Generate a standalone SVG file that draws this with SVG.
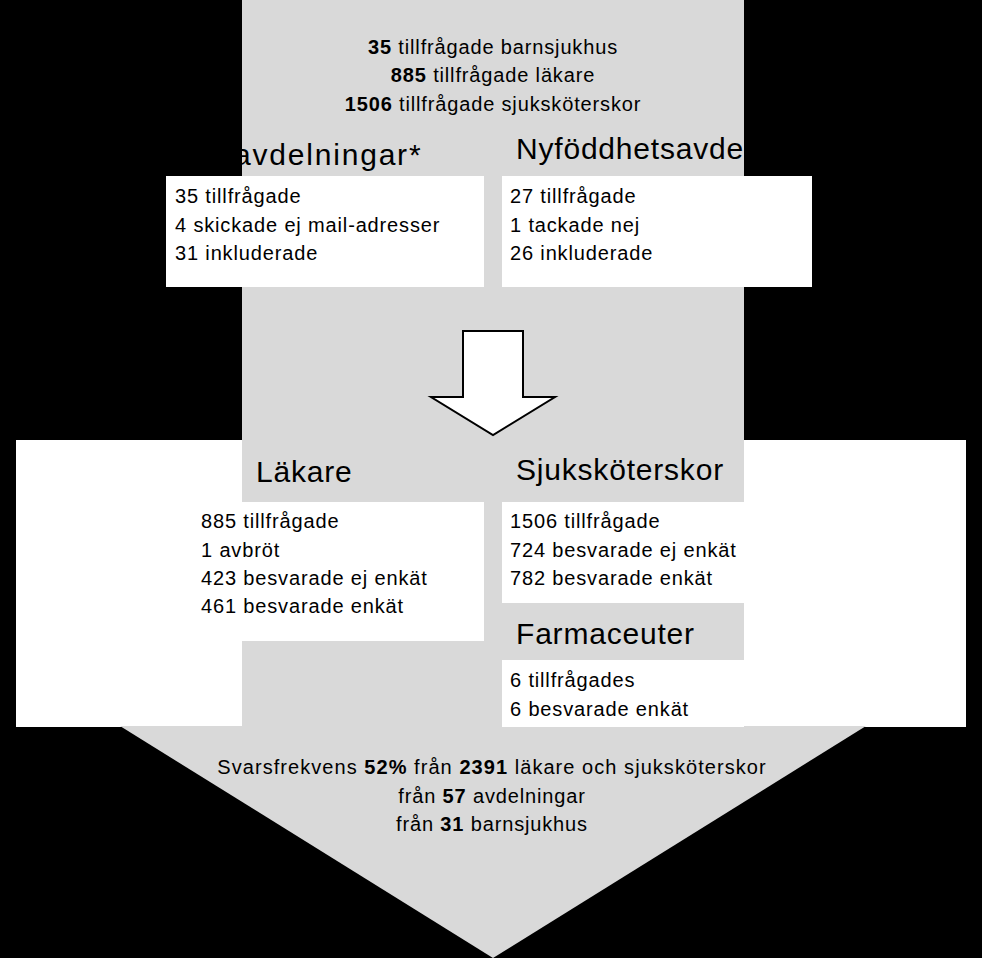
<svg xmlns="http://www.w3.org/2000/svg" width="982" height="958" viewBox="0 0 982 958">
<defs>
<style>
.t{font-family:"Liberation Sans",Arial,sans-serif;font-size:20px;letter-spacing:0.85px;fill:#000}
.h{font-family:"Liberation Sans",Arial,sans-serif;font-size:30px;letter-spacing:0.8px;fill:#000}
.c{text-anchor:middle}
.b{font-weight:bold}
.wide{letter-spacing:1.05px}
.gray{fill:#d9d9d9}
.white{fill:#ffffff}
</style>
<clipPath id="col"><rect x="242" y="0" width="502" height="726"/></clipPath>
</defs>
<rect x="0" y="0" width="982" height="958" fill="#000"/>
<g id="background">
<rect class="white" x="16" y="440" width="950" height="287"/>
<rect class="gray" x="242" y="0" width="502" height="727"/>
<polygon class="gray" points="120,726 866,726 493,958"/>
</g>
<g id="top-summary">
<text class="t c" x="493" y="54"><tspan class="b">35</tspan> tillfrågade barnsjukhus</text>
<text class="t c" x="493" y="82"><tspan class="b">885</tspan> tillfrågade läkare</text>
<text class="t c" x="493" y="111"><tspan class="b">1506</tspan> tillfrågade sjuksköterskor</text>
</g>
<g id="avdelningar">
<text class="h" x="234" y="165" clip-path="url(#col)" style="letter-spacing:1.8px">avdelningar*</text>
<rect class="white" x="166" y="176" width="318" height="111"/>
<text class="t" x="175" y="203">35 tillfrågade</text>
<text class="t" x="175" y="232">4 skickade ej mail-adresser</text>
<text class="t" x="175" y="260">31 inkluderade</text>
</g>
<g id="nyfoddhet">
<text class="h" x="516" y="159" clip-path="url(#col)">Nyföddhetsavde</text>
<rect class="white" x="502" y="176" width="310" height="111"/>
<text class="t" x="510" y="203">27 tillfrågade</text>
<text class="t" x="510" y="232">1 tackade nej</text>
<text class="t" x="510" y="260">26 inkluderade</text>
</g>
<g id="connectors">
<polygon points="463,331 523,331 523,397 555,397 493,435 431,397 463,397" fill="#fff" stroke="#000" stroke-width="2"/>
</g>
<g id="lakare">
<text class="h" x="256" y="482">Läkare</text>
<rect class="white" x="242" y="502" width="242" height="139"/>
<text class="t" x="201" y="528">885 tillfrågade</text>
<text class="t" x="201" y="557">1 avbröt</text>
<text class="t" x="201" y="585">423 besvarade ej enkät</text>
<text class="t" x="201" y="613">461 besvarade enkät</text>
</g>
<g id="sjukskoterskor">
<text class="h" x="516" y="480">Sjuksköterskor</text>
<rect class="white" x="502" y="502" width="242" height="101"/>
<text class="t" x="510" y="528">1506 tillfrågade</text>
<text class="t" x="510" y="557">724 besvarade ej enkät</text>
<text class="t" x="510" y="585">782 besvarade enkät</text>
</g>
<g id="farmaceuter">
<text class="h" x="516" y="644">Farmaceuter</text>
<rect class="white" x="502" y="660" width="242" height="67"/>
<text class="t" x="510" y="687">6 tillfrågades</text>
<text class="t" x="510" y="716">6 besvarade enkät</text>
</g>
<g id="result">
<text class="t c wide" x="492" y="774">Svarsfrekvens <tspan class="b">52%</tspan> från <tspan class="b">2391</tspan> läkare och sjuksköterskor</text>
<text class="t c" x="492" y="803">från <tspan class="b">57</tspan> avdelningar</text>
<text class="t c" x="492" y="831">från <tspan class="b">31</tspan> barnsjukhus</text>
</g>
</svg>
